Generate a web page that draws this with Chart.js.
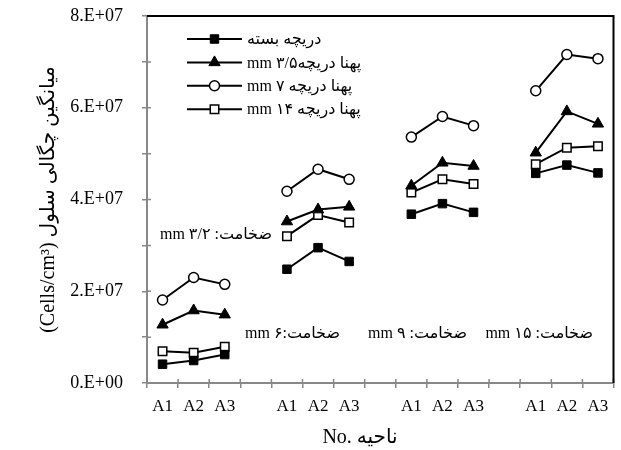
<!DOCTYPE html>
<html>
<head>
<meta charset="utf-8">
<script src="https://cdn.jsdelivr.net/npm/chart.js@4.4.0/dist/chart.umd.min.js"></script>
<style>
  html, body { margin: 0; padding: 0; background: #fff; }
  #wrap { width: 621px; height: 450px; }
</style>
</head>
<body>
<div id="wrap"><canvas id="chart" width="621" height="450"></canvas></div>
<script>
// --- data ---
const categories = ['A1', 'A2', 'A3', '', 'A1', 'A2', 'A3', '', 'A1', 'A2', 'A3', '', 'A1', 'A2', 'A3'];

const closedValve = [4.1e6, 4.9e6, 6.2e6, null, 2.48e7, 2.95e7, 2.65e7, null, 3.68e7, 3.91e7, 3.72e7, null, 4.57e7, 4.75e7, 4.58e7];
const open35mm    = [1.27e7, 1.58e7, 1.49e7, null, 3.52e7, 3.78e7, 3.84e7, null, 4.30e7, 4.80e7, 4.73e7, null, 5.02e7, 5.92e7, 5.65e7];
const open7mm     = [1.81e7, 2.30e7, 2.15e7, null, 4.18e7, 4.66e7, 4.44e7, null, 5.36e7, 5.81e7, 5.61e7, null, 6.37e7, 7.16e7, 7.07e7];
const open14mm    = [6.9e6, 6.6e6, 7.9e6, null, 3.20e7, 3.66e7, 3.50e7, null, 4.15e7, 4.44e7, 4.34e7, null, 4.77e7, 5.13e7, 5.16e7];

const seriesNames = ['دریچه بسته', 'پهنا دریچه۳/۵ mm', 'پهنا دریچه ۷ mm', 'پهنا دریچه ۱۴ mm'];
const thicknessNotes = ['ضخامت: ۳/۲ mm', 'ضخامت:۶ mm', 'ضخامت: ۹ mm', 'ضخامت: ۱۵ mm'];
const yTickLabels = ['0.E+00', '2.E+07', '4.E+07', '6.E+07', '8.E+07'];
const xTitle = 'No. ناحیه';
const yTitle = '\u202Bمیانگین چگالی سلول (Cells/cm³)\u202C';

const serif = "'Liberation Serif', 'DejaVu Sans', serif";
const axisGray = '#888888';

Chart.defaults.font.family = serif;
Chart.defaults.color = '#000';

// line + marker legend drawn inside the plot
const innerLegend = {
  id: 'innerLegend',
  afterDatasetsDraw(chart) {
    const { ctx, chartArea: a } = chart;
    ctx.save();
    chart.data.datasets.forEach((ds, i) => {
      const yy = a.top + 23 + i * 23.4;
      const x0 = a.left + 40, x1 = a.left + 95, xm = (x0 + x1) / 2;
      ctx.strokeStyle = '#000';
      ctx.lineWidth = 2;
      ctx.beginPath(); ctx.moveTo(x0, yy); ctx.lineTo(x1, yy); ctx.stroke();
      ctx.fillStyle = ds.pointBackgroundColor;
      ctx.strokeStyle = ds.pointBorderColor;
      ctx.lineWidth = ds.pointBorderWidth;
      Chart.helpers.drawPoint(ctx, {
        pointStyle: ds.pointStyle, radius: ds.pointRadius,
        borderWidth: ds.pointBorderWidth, rotation: 0
      }, xm, yy);
      ctx.direction = 'rtl';
      ctx.textAlign = 'left';
      ctx.textBaseline = 'middle';
      ctx.font = '16px ' + serif;
      ctx.fillStyle = '#000';
      ctx.fillText(ds.label, x1 + 5, yy + 1);
    });
    ctx.restore();
  }
};

// thickness notes under each group, plus the x axis title (sits left of centre)
const notes = {
  id: 'notes',
  afterDatasetsDraw(chart) {
    const { ctx, chartArea: a } = chart;
    const spots = [[125, 219], [193, 318], [320, 318], [446, 318]]; // right edge, middle (from chart area corner)
    ctx.save();
    ctx.direction = 'rtl';
    ctx.textAlign = 'right';
    ctx.textBaseline = 'middle';
    ctx.font = '16px ' + serif;
    ctx.fillStyle = '#000';
    thicknessNotes.forEach((t, i) => ctx.fillText(t, a.left + spots[i][0], a.top + spots[i][1]));
    ctx.direction = 'ltr';
    ctx.textAlign = 'center';
    ctx.font = '20px ' + serif;
    ctx.fillText(xTitle, a.left + 213, a.bottom + 55);
    ctx.restore();
  }
};

// black top/right frame and the inner half of the crossing ticks
const frame = {
  id: 'frame',
  afterDraw(chart) {
    const { ctx, chartArea: a, scales: { x, y } } = chart;
    ctx.save();
    ctx.strokeStyle = axisGray;
    ctx.lineWidth = 1.5;
    ctx.beginPath();
    y.ticks.forEach(t => {
      const py = y.getPixelForValue(t.value);
      ctx.moveTo(a.left, py); ctx.lineTo(a.left + 4, py);
    });
    for (let i = 0; i <= categories.length; i++) {
      const px = x.getPixelForValue(i - 0.5);
      ctx.moveTo(px, a.bottom); ctx.lineTo(px, a.bottom - 4);
    }
    ctx.stroke();
    ctx.strokeStyle = '#000';
    ctx.lineWidth = 2;
    ctx.beginPath();
    ctx.moveTo(a.left, a.top); ctx.lineTo(a.right, a.top); ctx.lineTo(a.right, a.bottom);
    ctx.stroke();
    ctx.restore();
  }
};

function series(label, data, style, radius, fill, bw) {
  return {
    label, data,
    borderColor: '#000', borderWidth: 2, tension: 0, fill: false, spanGaps: false,
    pointStyle: style, pointRadius: radius, pointHoverRadius: radius,
    pointBackgroundColor: fill, pointBorderColor: '#000', pointBorderWidth: bw
  };
}

new Chart(document.getElementById('chart'), {
  type: 'line',
  data: {
    labels: categories,
    datasets: [
      series(seriesNames[0], closedValve, 'rect', 6, '#000', 1),
      series(seriesNames[1], open35mm, 'triangle', 6.5, '#000', 1),
      series(seriesNames[2], open7mm, 'circle', 5, '#fff', 1.5),
      series(seriesNames[3], open14mm, 'rect', 6, '#fff', 1.5)
    ]
  },
  options: {
    responsive: false,
    animation: false,
    devicePixelRatio: 1,
    events: [],
    layout: { padding: { top: 16, right: 1, left: 0, bottom: 0 } },
    plugins: { legend: { display: false }, tooltip: { enabled: false } },
    scales: {
      x: {
        offset: true,
        afterFit: s => { s.height = 67; },
        border: { color: axisGray, width: 2 },
        grid: { offset: true, drawOnChartArea: false, color: axisGray, lineWidth: 1.5, tickLength: 5 },
        ticks: { autoSkip: false, maxRotation: 0, padding: 8, font: { size: 17 }, color: '#000' }
      },
      y: {
        min: 0, max: 8e7,
        // fixed width; drop the label padding Chart.js adds above/below the axis
        afterFit: s => { s.width = 147; s.paddingTop = 0; s.paddingBottom = 0; },
        border: { color: axisGray, width: 2 },
        grid: { drawOnChartArea: false, color: axisGray, lineWidth: 1.5, tickLength: 5 },
        ticks: {
          stepSize: 1e7, padding: 19, font: { size: 18 }, color: '#000',
          callback: v => (v % 2e7 === 0 ? yTickLabels[v / 2e7] : '')
        },
        title: {
          display: true, text: yTitle,
          font: { size: 20 }, padding: { top: 37, bottom: 0 }
        }
      }
    }
  },
  plugins: [innerLegend, notes, frame]
});
</script>
</body>
</html>
